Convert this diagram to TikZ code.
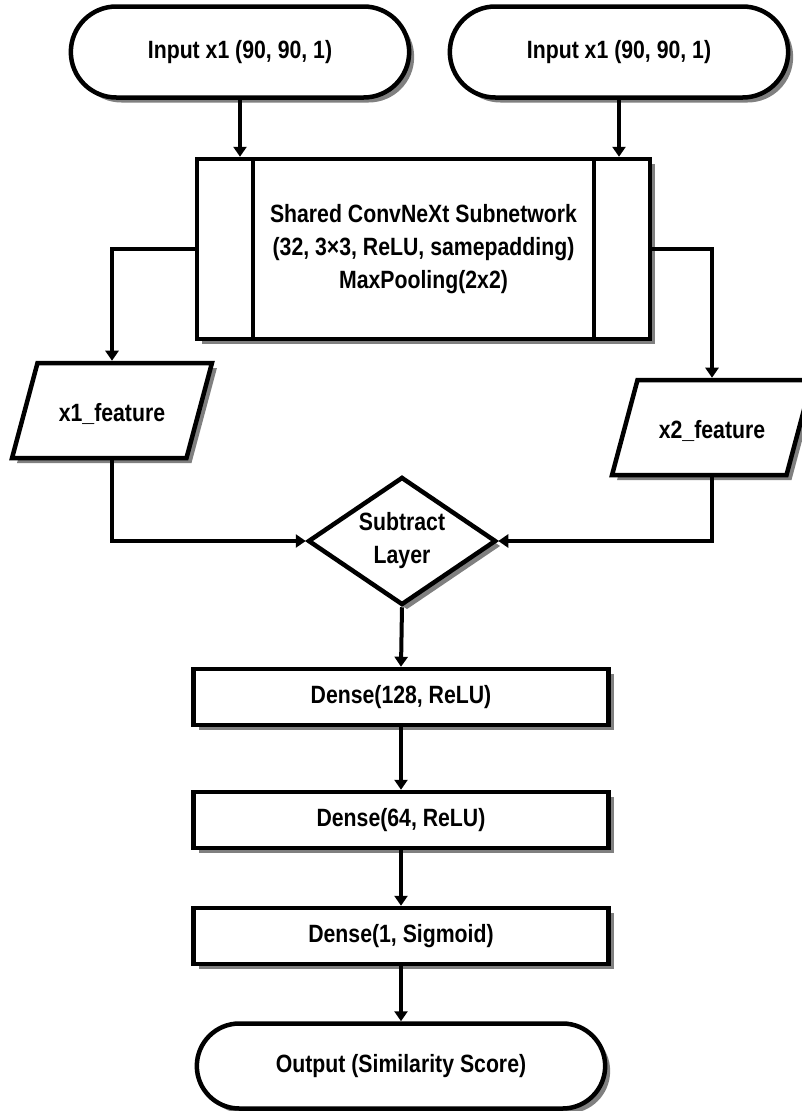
\documentclass[tikz,border=0pt]{standalone}
\usepackage{fontspec}
\setmainfont{Liberation Sans}[FakeStretch=0.85]
\usetikzlibrary{shapes.geometric, shapes.misc, arrows.meta}

\tikzset{
  base/.style={draw, line width=4.5pt, fill=white, align=center,
    font=\bfseries\fontsize{25}{33}\selectfont,
    preaction={fill=black!50, transform canvas={xshift=5pt, yshift=-5pt}}},
  terminal/.style={base, rounded rectangle, minimum width=345pt, minimum height=91pt},
  predef/.style={base, rectangle, minimum width=453pt, minimum height=180pt,
    path picture={
      \draw[line width=4pt] ([xshift=56pt]path picture bounding box.north west) -- ([xshift=56pt]path picture bounding box.south west);
      \draw[line width=4pt] ([xshift=-56pt]path picture bounding box.north east) -- ([xshift=-56pt]path picture bounding box.south east);
    }},
  iobox/.style={base, trapezium, trapezium left angle=75, trapezium right angle=105,
    text width=107pt, text height=22.5pt, text depth=1.5pt, inner xsep=21pt, inner ysep=35.5pt},
  decision/.style={base, diamond, aspect=1.47, inner sep=1pt, minimum width=188pt, minimum height=128pt},
  layer/.style={base, rectangle, minimum width=415pt, minimum height=56pt},
  flow/.style={line width=4pt, -{Triangle[length=10pt, width=13pt]}}
}

\begin{document}
\begin{tikzpicture}[x=1pt, y=-1pt]
  \useasboundingbox (0,0) rectangle (802,1111);

  % inputs
  \node[terminal] (in1) at (240,52) {Input x1 (90, 90, 1)};
  \node[terminal] (in2) at (619,52) {Input x1 (90, 90, 1)};

  % shared subnetwork
  \node[predef] (shared) at (423.5,249) {Shared ConvNeXt Subnetwork\\(32, 3×3, ReLU, samepadding)\\MaxPooling(2x2)};

  % features
  \node[iobox] (x1feat) at (112,410.5) {x1\_feature};
  \node[iobox] (x2feat) at (712,427.5) {x2\_feature};

  \node[decision] (sub) at (402,541) {Subtract\\Layer};

  % head
  \node[layer] (dense1) at (401,697) {Dense(128, ReLU)};
  \node[layer] (dense2) at (401,820) {Dense(64, ReLU)};
  \node[layer] (dense3) at (401,936) {Dense(1, Sigmoid)};
  \node[terminal, minimum width=415pt, minimum height=85pt] (out) at (401,1066) {Output (Similarity Score)};

  \draw[flow] (in1.south) -- (in1.south |- shared.north);
  \draw[flow] (in2.south) -- (in2.south |- shared.north);
  \draw[flow] (shared.west) -| (x1feat.north);
  \draw[flow] (shared.east) -| (x2feat.north);
  \draw[flow] (x1feat.south) |- (sub.west);
  \draw[flow] (x2feat.south) |- (sub.east);
  \draw[flow] (sub.south) -- (dense1.north);
  \draw[flow] (dense1.south) -- (dense2.north);
  \draw[flow] (dense2.south) -- (dense3.north);
  \draw[flow] (dense3.south) -- (out.north);
\end{tikzpicture}
\end{document}
